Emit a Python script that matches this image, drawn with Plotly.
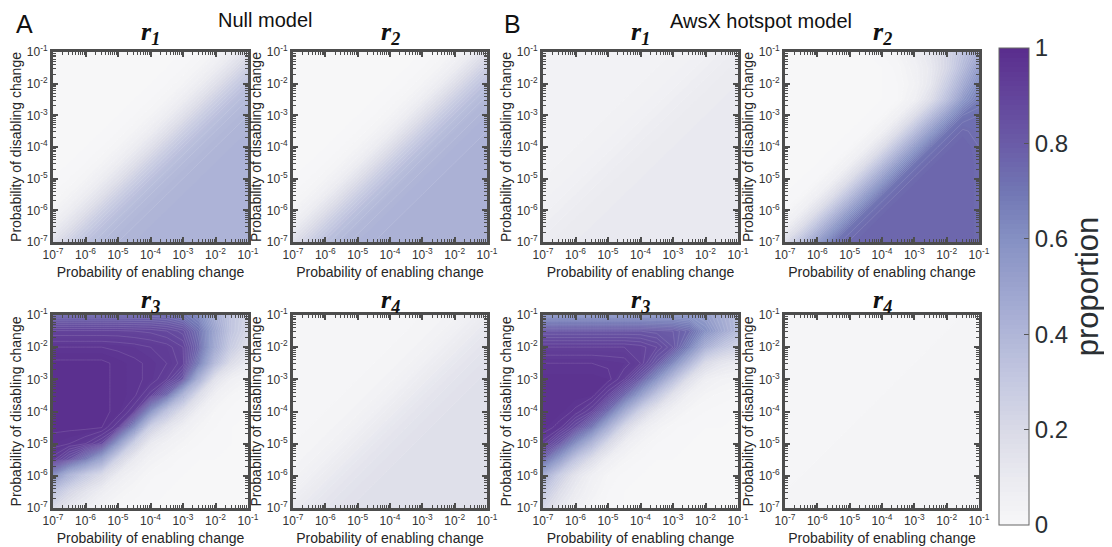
import plotly.graph_objects as go

# ---------------- data ----------------
# grid exponents (log10 of probability), half-decade steps
X_EXP = [-7, -6.5, -6, -5.5, -5, -4.5, -4, -3.5, -3, -2.5, -2, -1.5, -1]   # enabling
Y_EXP = [-1, -1.5, -2, -2.5, -3, -3.5, -4, -4.5, -5, -5.5, -6, -6.5, -7]   # disabling (rows top -> bottom)

TICK_EXP = [-7, -6, -5, -4, -3, -2, -1]
TICK_TEXT = ["10<sup>-7</sup>", "10<sup>-6</sup>", "10<sup>-5</sup>", "10<sup>-4</sup>",
             "10<sup>-3</sup>", "10<sup>-2</sup>", "10<sup>-1</sup>"]
CB_TICKS = [0, 0.2, 0.4, 0.6, 0.8, 1]
CB_TEXT = ["0", "0.2", "0.4", "0.6", "0.8", "1"]

NULL_R1 = [
    [0, 0, 0, 0, 0, 0, 0, 0, 0, .01, .03, .08, .16],
    [0, 0, 0, 0, 0, 0, 0, 0, .01, .03, .08, .16, .26],
    [0, 0, 0, 0, 0, 0, 0, .01, .03, .08, .16, .26, .34],
    [0, 0, 0, 0, 0, 0, .01, .03, .08, .16, .26, .34, .38],
    [0, 0, 0, 0, 0, .01, .03, .08, .16, .26, .34, .38, .40],
    [0, 0, 0, 0, .01, .03, .08, .16, .26, .34, .38, .40, .41],
    [0, 0, 0, .01, .03, .08, .16, .26, .34, .38, .40, .41, .415],
    [0, 0, .01, .03, .08, .16, .26, .34, .38, .40, .41, .415, .42],
    [0, .01, .03, .08, .16, .26, .34, .38, .40, .41, .415, .42, .42],
    [.01, .03, .08, .16, .26, .34, .38, .40, .41, .415, .42, .42, .42],
    [.03, .08, .16, .26, .34, .38, .40, .41, .415, .42, .42, .42, .42],
    [.08, .16, .26, .34, .38, .40, .41, .415, .42, .42, .42, .42, .42],
    [.16, .26, .34, .38, .40, .41, .415, .42, .42, .42, .42, .42, .42],
]

NULL_R2 = [
    [0, 0, 0, 0, 0, 0, 0, 0, 0, .01, .03, .08, .17],
    [0, 0, 0, 0, 0, 0, 0, 0, .01, .03, .08, .17, .27],
    [0, 0, 0, 0, 0, 0, 0, .01, .03, .08, .17, .27, .35],
    [0, 0, 0, 0, 0, 0, .01, .03, .08, .17, .27, .35, .39],
    [0, 0, 0, 0, 0, .01, .03, .08, .17, .27, .35, .39, .41],
    [0, 0, 0, 0, .01, .03, .08, .17, .27, .35, .39, .41, .42],
    [0, 0, 0, .01, .03, .08, .17, .27, .35, .39, .41, .42, .425],
    [0, 0, .01, .03, .08, .17, .27, .35, .39, .41, .42, .425, .43],
    [0, .01, .03, .08, .17, .27, .35, .39, .41, .42, .425, .43, .43],
    [.01, .03, .08, .17, .27, .35, .39, .41, .42, .425, .43, .43, .43],
    [.03, .08, .17, .27, .35, .39, .41, .42, .425, .43, .43, .43, .43],
    [.08, .17, .27, .35, .39, .41, .42, .425, .43, .43, .43, .43, .43],
    [.17, .27, .35, .39, .41, .42, .425, .43, .43, .43, .43, .43, .43],
]

NULL_R3 = [
    [.75, .75, .75, .75, .75, .75, .75, .74, .70, .62, .45, .32, .24],
    [.905, .905, .905, .905, .905, .90, .895, .88, .85, .72, .50, .32, .22],
    [.96, .96, .96, .96, .955, .95, .94, .93, .90, .75, .48, .28, .17],
    [.985, .985, .985, .985, .975, .965, .955, .94, .91, .68, .38, .18, .10],
    [.985, .985, .985, .985, .975, .965, .955, .92, .82, .45, .15, .06, .03],
    [.985, .985, .985, .985, .975, .965, .91, .75, .43, .18, .055, .02, .005],
    [.985, .985, .985, .985, .975, .92, .62, .35, .18, .065, .02, .005, 0],
    [.985, .985, .985, .98, .92, .63, .27, .14, .065, .025, .01, 0, 0],
    [.97, .96, .94, .89, .58, .27, .10, .05, .025, .01, .005, 0, 0],
    [.93, .84, .70, .52, .24, .10, .04, .02, .005, 0, 0, 0, 0],
    [.63, .43, .30, .20, .085, .04, .012, .005, 0, 0, 0, 0, 0],
    [.35, .22, .14, .075, .035, .015, .005, 0, 0, 0, 0, 0, 0],
    [.20, .12, .07, .03, .01, .005, 0, 0, 0, 0, 0, 0, 0],
]

NULL_R4 = [
    [.02, .02, .02, .02, .02, .02, .02, .02, .02, .025, .035, .06, .09],
    [.02, .02, .02, .02, .02, .02, .02, .02, .025, .035, .06, .09, .12],
    [.02, .02, .02, .02, .02, .02, .02, .025, .035, .06, .09, .12, .14],
    [.02, .02, .02, .02, .02, .02, .025, .035, .06, .09, .12, .14, .155],
    [.02, .02, .02, .02, .02, .025, .035, .06, .09, .12, .14, .155, .165],
    [.02, .02, .02, .02, .025, .035, .06, .09, .12, .14, .155, .165, .165],
    [.02, .02, .02, .025, .035, .06, .09, .12, .14, .155, .165, .165, .165],
    [.02, .02, .025, .035, .06, .09, .12, .14, .155, .165, .165, .165, .165],
    [.02, .025, .035, .06, .09, .12, .14, .155, .165, .165, .165, .165, .165],
    [.025, .035, .06, .09, .12, .14, .155, .165, .165, .165, .165, .165, .165],
    [.035, .06, .09, .12, .14, .155, .165, .165, .165, .165, .165, .165, .165],
    [.06, .09, .12, .14, .155, .165, .165, .165, .165, .165, .165, .165, .165],
    [.09, .12, .14, .155, .165, .165, .165, .165, .165, .165, .165, .165, .165],
]

AWSX_R1 = [
    [.04, .04, .04, .04, .04, .04, .04, .04, .04, .045, .055, .07, .085],
    [.04, .04, .04, .04, .04, .04, .04, .04, .045, .055, .07, .085, .095],
    [.04, .04, .04, .04, .04, .04, .04, .045, .055, .07, .085, .095, .10],
    [.04, .04, .04, .04, .04, .04, .045, .055, .07, .085, .095, .10, .10],
    [.04, .04, .04, .04, .04, .045, .055, .07, .085, .095, .10, .10, .10],
    [.04, .04, .04, .04, .045, .055, .07, .085, .095, .10, .10, .10, .10],
    [.04, .04, .04, .045, .055, .07, .085, .095, .10, .10, .10, .10, .10],
    [.04, .04, .045, .055, .07, .085, .095, .10, .10, .10, .10, .10, .10],
    [.04, .045, .055, .07, .085, .095, .10, .10, .10, .10, .10, .10, .10],
    [.045, .055, .07, .085, .095, .10, .10, .10, .10, .10, .10, .10, .10],
    [.055, .07, .085, .095, .10, .10, .10, .10, .10, .10, .10, .10, .10],
    [.07, .085, .095, .10, .10, .10, .10, .10, .10, .10, .10, .10, .10],
    [.085, .095, .10, .10, .10, .10, .10, .10, .10, .10, .10, .10, .10],
]

AWSX_R2 = [
    [0, 0, 0, 0, 0, 0, .01, .03, .07, .13, .22, .34, .46],
    [0, 0, 0, 0, 0, 0, 0, .015, .05, .11, .22, .38, .55],
    [0, 0, 0, 0, 0, 0, 0, .01, .04, .12, .28, .46, .62],
    [0, 0, 0, 0, 0, 0, 0, .01, .06, .18, .36, .56, .68],
    [0, 0, 0, 0, 0, 0, .01, .06, .18, .36, .54, .70, .72],
    [0, 0, 0, 0, 0, .01, .06, .18, .36, .54, .70, .745, .73],
    [0, 0, 0, 0, .01, .06, .18, .36, .54, .70, .745, .76, .74],
    [0, 0, 0, .01, .06, .18, .36, .54, .70, .745, .76, .76, .745],
    [0, 0, .01, .06, .18, .36, .54, .70, .745, .76, .76, .76, .745],
    [0, .01, .06, .18, .36, .54, .70, .745, .76, .76, .76, .76, .745],
    [.01, .06, .18, .36, .54, .70, .745, .76, .76, .76, .76, .76, .745],
    [.06, .18, .36, .54, .70, .745, .76, .76, .76, .76, .76, .76, .745],
    [.18, .36, .54, .70, .745, .76, .76, .76, .76, .76, .76, .76, .745],
]

AWSX_R3 = [
    [.58, .58, .58, .58, .58, .58, .58, .58, .58, .57, .53, .45, .38],
    [.82, .82, .82, .82, .82, .82, .82, .81, .80, .75, .60, .48, .38],
    [.92, .92, .92, .92, .92, .92, .91, .88, .82, .66, .44, .32, .25],
    [.96, .96, .96, .96, .955, .95, .92, .81, .64, .42, .20, .13, .10],
    [.975, .975, .975, .975, .97, .92, .80, .60, .38, .17, .07, .04, .03],
    [.975, .975, .975, .97, .90, .76, .55, .33, .15, .06, .025, .015, .01],
    [.975, .975, .955, .90, .74, .49, .26, .12, .05, .02, .01, .005, 0],
    [.975, .95, .86, .71, .46, .22, .09, .035, .012, .005, 0, 0, 0],
    [.93, .82, .62, .42, .21, .08, .03, .01, .005, 0, 0, 0, 0],
    [.76, .56, .33, .18, .07, .025, .01, 0, 0, 0, 0, 0, 0],
    [.48, .28, .14, .06, .02, .005, 0, 0, 0, 0, 0, 0, 0],
    [.32, .18, .09, .04, .01, 0, 0, 0, 0, 0, 0, 0, 0],
    [.22, .12, .06, .02, .005, 0, 0, 0, 0, 0, 0, 0, 0],
]

AWSX_R4 = [
    [.015, .015, .015, .015, .015, .015, .015, .015, .015, .015, .015, .02, .025],
    [.015, .015, .015, .015, .015, .015, .015, .015, .015, .015, .02, .025, .03],
    [.015, .015, .015, .015, .015, .015, .015, .015, .015, .02, .025, .03, .03],
    [.015, .015, .015, .015, .015, .015, .015, .015, .02, .025, .03, .03, .03],
    [.015, .015, .015, .015, .015, .015, .015, .02, .025, .03, .03, .03, .03],
    [.015, .015, .015, .015, .015, .015, .02, .025, .03, .03, .03, .03, .03],
    [.015, .015, .015, .015, .015, .02, .025, .03, .03, .03, .03, .03, .03],
    [.015, .015, .015, .015, .02, .025, .03, .03, .03, .03, .03, .03, .03],
    [.015, .015, .015, .02, .025, .03, .03, .03, .03, .03, .03, .03, .03],
    [.015, .015, .02, .025, .03, .03, .03, .03, .03, .03, .03, .03, .03],
    [.015, .02, .025, .03, .03, .03, .03, .03, .03, .03, .03, .03, .03],
    [.02, .025, .03, .03, .03, .03, .03, .03, .03, .03, .03, .03, .03],
    [.025, .03, .03, .03, .03, .03, .03, .03, .03, .03, .03, .03, .03],
]

# ---------------- styling ----------------
SCREEN_W, SCREEN_H = 1112, 547
PAGE_OFFSET = 8                      # default <body> margin of the html page
W, H = SCREEN_W - PAGE_OFFSET, SCREEN_H - PAGE_OFFSET
COLORSCALE = [
    [0.0, "#f7f7f8"], [0.1, "#eaeaf0"], [0.2, "#d9dae7"], [0.3, "#c5c9e1"],
    [0.4, "#b0b6d8"], [0.5, "#9ba3ce"], [0.6, "#8590c3"], [0.7, "#7176b4"],
    [0.8, "#6a5ba7"], [0.9, "#63449b"], [1.0, "#5a2d8d"],
]
SANS = "Liberation Sans, Arial, sans-serif"
SERIF = "Liberation Serif, Times New Roman, serif"
FRAME = "#4d4d4d"

# panel boxes in screen pixels
COLS = [(53, 248), (293, 487), (543, 738), (785, 979)]
ROWS = [(52, 242), (315, 508)]
PANELS = [
    (NULL_R1, 0, 0, "1"), (NULL_R2, 0, 1, "2"), (AWSX_R1, 0, 2, "1"), (AWSX_R2, 0, 3, "2"),
    (NULL_R3, 1, 0, "3"), (NULL_R4, 1, 1, "4"), (AWSX_R3, 1, 2, "3"), (AWSX_R4, 1, 3, "4"),
]

xs = [10 ** e for e in X_EXP]
ys = [10 ** e for e in Y_EXP]
tickvals = [10 ** e for e in TICK_EXP]
minor_vals = [k * 10 ** e for e in TICK_EXP[:-1] for k in range(2, 10)]


def px_x(p):
    return (p - PAGE_OFFSET) / W


def px_y(p):
    return 1 - (p - PAGE_OFFSET) / H


fig = go.Figure()
annotations = []
layout_axes = {}

for k, (grid, r, c, sub) in enumerate(PANELS, start=1):
    xa = "x" if k == 1 else f"x{k}"
    ya = "y" if k == 1 else f"y{k}"
    z = grid[::-1]
    yv = ys[::-1]
    trace = dict(
        x=xs, y=yv, z=z, xaxis=xa, yaxis=ya,
        colorscale=COLORSCALE, zmin=0, zmax=1, autocontour=False,
        contours=dict(start=0, end=1, size=0.01, coloring="fill", showlines=False),
        line=dict(width=0, smoothing=0), hoverinfo="skip", showscale=(k == 1),
    )
    if k == 1:
        trace["colorbar"] = dict(
            x=px_x(999), xanchor="left", y=px_y((48 + 525) / 2), yanchor="middle",
            len=477 / H, lenmode="fraction", thickness=30, thicknessmode="pixels",
            outlinewidth=1, outlinecolor="#666", xpad=0, ypad=0,
            tickmode="array", tickvals=CB_TICKS, ticktext=CB_TEXT,
            ticks="inside", ticklen=5, tickcolor="#555",
            tickfont=dict(family=SANS, size=24, color="#2a2f33"),
            title=dict(text="proportion", side="right", font=dict(family=SANS, size=31, color="#2a2f33")),
        )
    fig.add_trace(go.Contour(**trace))
    # faint contour lines
    fig.add_trace(go.Contour(
        x=xs, y=yv, z=z, xaxis=xa, yaxis=ya, autocontour=False,
        contours=dict(start=0.02, end=0.98, size=0.02, coloring="none"),
        line=dict(width=0.5, color="rgba(255,255,255,0.24)", smoothing=0),
        hoverinfo="skip", showscale=False,
    ))

    x0, x1 = COLS[c]
    y0, y1 = ROWS[r]
    axname = "xaxis" if k == 1 else f"xaxis{k}"
    ayname = "yaxis" if k == 1 else f"yaxis{k}"
    common = dict(
        type="log", range=[-7, -1], showline=True, linewidth=3, linecolor=FRAME,
        mirror="allticks", ticks="inside", ticklen=5, tickwidth=1.5, tickcolor=FRAME,
        tickmode="array", tickvals=tickvals, ticktext=TICK_TEXT,
        tickfont=dict(family=SANS, size=12, color="#333"),
        showgrid=False, zeroline=False, automargin=False,
        minor=dict(ticks="inside", ticklen=3, tickwidth=1, tickcolor=FRAME,
                   tickmode="array", tickvals=minor_vals, showgrid=False),
    )
    layout_axes[axname] = dict(
        common, domain=[px_x(x0), px_x(x1)], anchor=ya,
        title=dict(text="Probability of enabling change", standoff=6,
                   font=dict(family=SANS, size=14, color="#262626")),
    )
    layout_axes[ayname] = dict(
        common, domain=[px_y(y1), px_y(y0)], anchor=xa,
        title=dict(text="Probability of disabling change", standoff=2,
                   font=dict(family=SANS, size=14, color="#262626")),
    )
    title_y = 33 if r == 0 else 301
    annotations.append(dict(
        text=f"<b><i>r<sub>{sub}</sub></i></b>", x=px_x((x0 + x1) / 2), y=px_y(title_y),
        xref="paper", yref="paper", xanchor="center", yanchor="middle", showarrow=False,
        font=dict(family=SERIF, size=26, color="#111"),
    ))

for label, left in (("A", 14), ("B", 502)):
    annotations.append(dict(
        text=label, x=px_x(left), y=px_y(PAGE_OFFSET), xref="paper", yref="paper",
        xanchor="left", yanchor="top", showarrow=False,
        font=dict(family=SANS, size=25, color="#111"),
    ))
annotations += [
    dict(text="Null model", x=px_x(265), y=px_y(20), xref="paper", yref="paper",
         xanchor="center", yanchor="middle", showarrow=False, font=dict(family=SANS, size=20, color="#111")),
    dict(text="AwsX hotspot model", x=px_x(761), y=px_y(21), xref="paper", yref="paper",
         xanchor="center", yanchor="middle", showarrow=False, font=dict(family=SANS, size=20, color="#111")),
]

fig.update_layout(
    template="none",
    width=W, height=H, margin=dict(l=0, r=0, t=0, b=0, autoexpand=False),
    paper_bgcolor="white", plot_bgcolor="white", showlegend=False,
    annotations=annotations, font=dict(family=SANS),
    **layout_axes,
)

fig.write_html("out.html")
